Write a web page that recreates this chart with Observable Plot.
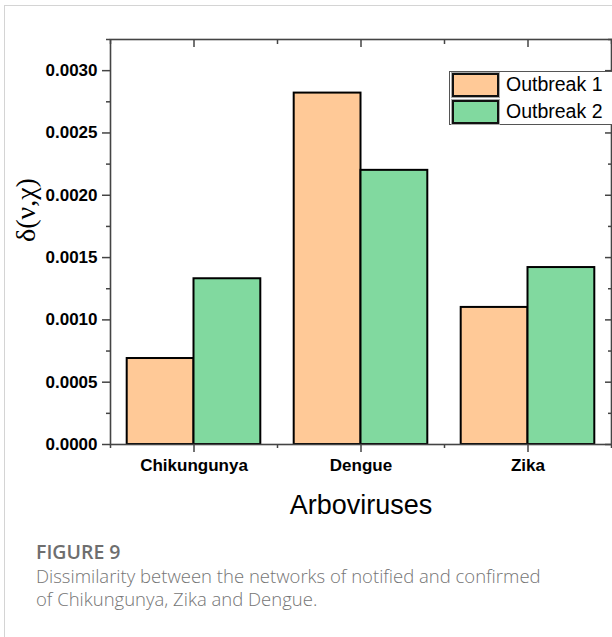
<!DOCTYPE html>
<html>
<head>
<meta charset="utf-8">
<script src="https://cdn.jsdelivr.net/npm/d3@7"></script>
<script src="https://cdn.jsdelivr.net/npm/@observablehq/plot@0.6"></script>
<style>
  html, body { margin: 0; padding: 0; background: #fff; width: 612px; height: 637px; overflow: hidden; }
  #card { position: absolute; left: 4px; top: 5px; width: 700px; height: 700px; border-left: 1px solid #d4d4d4; border-top: 1px solid #d4d4d4; }
  #chart { position: absolute; left: 0; top: 0; }
  #legend { position: absolute; left: 449px; top: 71px; width: 200px; height: 52px; border: 1px solid #555; background: #fff; }
  .lrow { position: absolute; left: 2px; height: 24px; width: 200px; }
  .sw { position: absolute; left: 0; top: 0; width: 47px; height: 24px; box-sizing: border-box; border: 2px solid #111; box-shadow: 0 0 0 1px #aaa; }
  .lt { position: absolute; left: 54px; top: 0; line-height: 24px; font: 19.5px "Liberation Sans", Arial, sans-serif; color: #000; white-space: nowrap; }
  #caption { position: absolute; left: 36px; top: 540px; font-family: "Open Sans", sans-serif; color: #757575; }
  #caption .fig { font-size: 19.5px; font-weight: 600; line-height: 24px; color: #6e6e6e; }
  #caption .txt { font-size: 18.5px; font-weight: 300; line-height: 23px; white-space: nowrap; }
</style>
</head>
<body>
<div id="card"></div>
<div id="chart"></div>
<div id="legend"></div>
<div id="caption">
  <div class="fig">FIGURE 9</div>
  <div class="txt">Dissimilarity between the networks of notified and confirmed<br>of Chikungunya, Zika and Dengue.</div>
</div>
<script>
// ---- data ----
const categories = ["Chikungunya", "Dengue", "Zika"];
const seriesNames = ["Outbreak 1", "Outbreak 2"];
const outbreak1 = [0.00069, 0.00282, 0.00110];
const outbreak2 = [0.00133, 0.00220, 0.00142];
const yTicks = [0, 0.0005, 0.0010, 0.0015, 0.0020, 0.0025, 0.0030];
const yTickLabels = ["0.0000", "0.0005", "0.0010", "0.0015", "0.0020", "0.0025", "0.0030"];
const yMinorTicks = [0.00025, 0.00075, 0.00125, 0.00175, 0.00225, 0.00275, 0.00325];
const xTitle = "Arboviruses";
const yTitle = "\u03B4(\u03BD,\u03C7)";
const seriesColors = ["#FFC997", "#81D99F"];

// ---- table ----
const seriesValues = [outbreak1, outbreak2];
const rows = [];
seriesNames.forEach((s, si) => {
  categories.forEach((c, ci) => {
    rows.push({category: c, series: s, si, pos: ci + 1, value: seriesValues[si][ci]});
  });
});
const xCenters = categories.map((c, i) => i + 1);
const xBounds = [0.5, 1.5, 2.5, 3.5];
const barW = 0.4;

const axisColor = "#444";
const tickFont = {fontSize: 17, fontWeight: "bold", fontFamily: "'Liberation Sans', Arial, sans-serif"};

const chart = Plot.plot({
  width: 612,
  height: 540,
  marginLeft: 110,
  marginRight: 1,
  marginTop: 39,
  marginBottom: 96,
  style: {background: "none", overflow: "visible", color: "#000"},
  x: {type: "linear", domain: [0.5, 3.5]},
  y: {domain: [0, 0.00325]},
  color: {domain: seriesNames, range: seriesColors},
  marks: [
    Plot.rectY(rows, {
      x1: d => d.pos - barW + d.si * barW,
      x2: d => d.pos + d.si * barW,
      y: "value",
      fill: "series",
      stroke: "#000",
      strokeWidth: 2
    }),
    Plot.frame({stroke: axisColor, strokeWidth: 1.6}),
    // bottom axis
    Plot.axisX({anchor: "bottom", ticks: xCenters, tickFormat: d => categories[d - 1], tickSize: 8, tickPadding: 6, stroke: axisColor, strokeWidth: 1.5, label: null, ...tickFont}),
    Plot.axisX({anchor: "bottom", ticks: xBounds, tickSize: 4, fill: "none", stroke: axisColor, strokeWidth: 1.5, label: null}),
    // top axis (inward ticks)
    Plot.axisX({anchor: "top", ticks: xCenters, tickSize: -7, fill: "none", stroke: axisColor, strokeWidth: 1.5, label: null}),
    Plot.axisX({anchor: "top", ticks: xBounds, tickSize: -4, fill: "none", stroke: axisColor, strokeWidth: 1.5, label: null}),
    // left axis
    Plot.axisY({anchor: "left", ticks: yTicks, tickFormat: d => yTickLabels[yTicks.indexOf(d)], tickSize: 8, tickPadding: 5, stroke: axisColor, strokeWidth: 1.5, label: null, ...tickFont}),
    Plot.axisY({anchor: "left", ticks: yMinorTicks, tickSize: 4, fill: "none", stroke: axisColor, strokeWidth: 1.5, label: null}),
    // right axis (inward ticks)
    Plot.axisY({anchor: "right", ticks: yTicks, tickSize: -7, fill: "none", stroke: axisColor, strokeWidth: 1.5, label: null}),
    Plot.axisY({anchor: "right", ticks: yMinorTicks, tickSize: -4, fill: "none", stroke: axisColor, strokeWidth: 1.5, label: null}),
    // titles
    Plot.text([xTitle], {frameAnchor: "bottom", dy: 61, lineAnchor: "middle", fontSize: 27, fontFamily: "'Liberation Sans', Arial, sans-serif", fill: "#000"}),
    Plot.text([yTitle], {frameAnchor: "left", dx: -84, rotate: -90, lineAnchor: "middle", fontSize: 28, fontFamily: "'Liberation Serif', 'Times New Roman', serif", fill: "#000"})
  ]
});
document.getElementById("chart").appendChild(chart);

// ---- legend ----
const legend = document.getElementById("legend");
seriesNames.forEach((s, i) => {
  const row = document.createElement("div");
  row.className = "lrow";
  row.style.top = (1 + i * 27) + "px";
  const sw = document.createElement("div");
  sw.className = "sw";
  sw.style.background = seriesColors[i];
  const t = document.createElement("div");
  t.className = "lt";
  t.textContent = s;
  row.appendChild(sw);
  row.appendChild(t);
  legend.appendChild(row);
});
</script>
</body>
</html>
